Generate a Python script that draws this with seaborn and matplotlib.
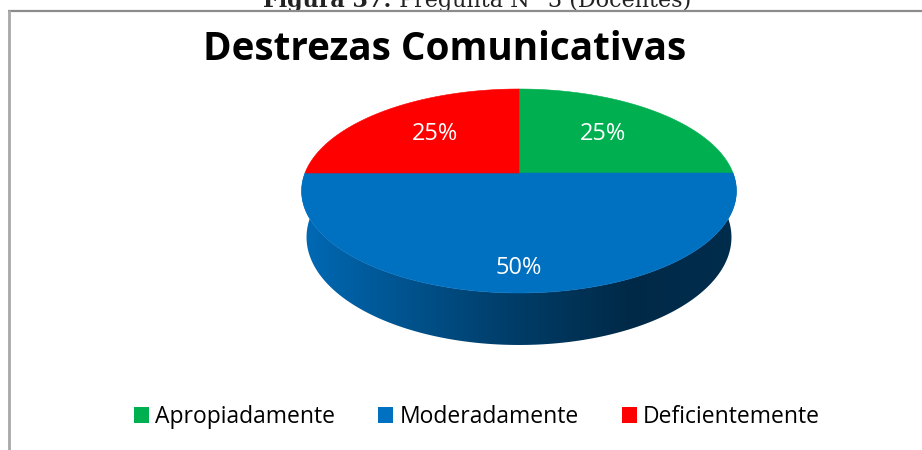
import numpy as np
import matplotlib
matplotlib.use("Agg")
import matplotlib.pyplot as plt
from matplotlib.patches import Polygon, Rectangle
from matplotlib.colors import to_rgb
import seaborn as sns

# ---- data ----
title = "Destrezas Comunicativas"
caption_bold = "Figura 37:"
caption_rest = " Pregunta N° 3 (Docentes)"
categories = ["Apropiadamente", "Moderadamente", "Deficientemente"]
values = [25, 50, 25]
colors = ["#00B050", "#0070C0", "#FF0000"]

sns.set_theme(style="white")
plt.rcParams["font.family"] = ["Open Sans", "DejaVu Sans"]
plt.rcParams["text.color"] = "black"

W, H = 922, 450
fig = plt.figure(figsize=(W / 100, H / 100), dpi=100)
ax = fig.add_axes([0, 0, 1, 1])
ax.set_xlim(0, W)
ax.set_ylim(H, 0)
ax.axis("off")

# ---- perspective 3-D pie geometry (pixel space) ----
CX, CY = 519, 173
TILT = np.deg2rad(27.5)
DIST = 5.026
FOCAL = 1075.6
THICK = 0.246


def project(u, v, z):
    s, c = np.sin(TILT), np.cos(TILT)
    yc = v * s + z * c
    depth = DIST + v * c - z * s
    return CX + u * FOCAL / depth, CY - yc * FOCAL / depth


palette = sns.color_palette(colors)
frac = np.array(values, dtype=float) / np.sum(values)
edges = np.concatenate([[0], np.cumsum(frac)]) * 2 * np.pi  # clockwise from 12 o'clock

x_left, _ = project(-1, 0, 0)
x_right, _ = project(1, 0, 0)

# side wall (front half only is visible), shaded left-to-right
shade_t = [0.0, 0.12, 0.45, 0.75, 1.0]
shade_f = [0.95, 0.84, 0.57, 0.37, 0.40]
for (a, b), col in zip(zip(edges[:-1], edges[1:]), palette):
    lo, hi = max(a, np.pi / 2), min(b, 3 * np.pi / 2)
    if hi <= lo:
        continue
    th = np.linspace(lo, hi, 300)
    tx, ty = project(np.sin(th), np.cos(th), 0)
    bx, by = project(np.sin(th), np.cos(th), -THICK)
    pts = np.column_stack([np.concatenate([tx, bx[::-1]]),
                           np.concatenate([ty, by[::-1]])])
    wall = Polygon(pts, closed=True, facecolor="none", edgecolor="none")
    ax.add_patch(wall)
    t = np.linspace(0, 1, 600)
    f = np.interp(t, shade_t, shade_f)
    rgb = np.array(to_rgb(col))
    img = np.clip(rgb[None, :] * f[:, None], 0, 1)[None, :, :].repeat(2, axis=0)
    im = ax.imshow(img, extent=(x_left - 5, x_right + 5, by.max() + 5, ty.min() - 5),
                   aspect="auto", interpolation="bilinear", zorder=1)
    im.set_clip_path(wall)

# top faces
for (a, b), col in zip(zip(edges[:-1], edges[1:]), palette):
    th = np.linspace(a, b, 300)
    px, py = project(np.sin(th), np.cos(th), 0)
    cx0, cy0 = project(0, 0, 0)
    pts = np.column_stack([np.concatenate([[cx0], px]), np.concatenate([[cy0], py])])
    ax.add_patch(Polygon(pts, closed=True, facecolor=col, edgecolor=col,
                         linewidth=0.4, zorder=2))

# value labels
label_r = [0.6, 0.82, 0.6]
for (a, b), val, r in zip(zip(edges[:-1], edges[1:]), values, label_r):
    m = (a + b) / 2
    lx, ly = project(r * np.sin(m), r * np.cos(m), 0)
    ax.text(lx, ly, f"{val}%", color="white", fontsize=17,
            ha="center", va="center", zorder=3)

ax.set_xlim(0, W)
ax.set_ylim(H, 0)

# title
ax.text(445, 50, title, fontsize=27.8, fontweight="bold", color="black",
        ha="center", va="center", zorder=3)

# legend
handles = [Rectangle((0, 0), 1, 1, facecolor=c, edgecolor="none") for c in palette]
leg = fig.legend(handles, categories, loc="center", bbox_to_anchor=(477 / W, 1 - 417 / H),
                 ncol=3, frameon=False, fontsize=16.5, handlelength=0.655,
                 handleheight=0.655, handletextpad=0.26, columnspacing=1.88,
                 borderaxespad=0, borderpad=0)
for txt in leg.get_texts():
    txt.set_color("black")

# frame lines
ax.plot([8, W], [10.5, 10.5], color="#8c8c8c", lw=1.6, solid_capstyle="butt", zorder=4)
ax.plot([9, 9], [10, H], color="#a8a8a8", lw=2.0, solid_capstyle="butt", zorder=4)

# caption above the frame (partly outside the canvas)
fig.canvas.draw()
renderer = fig.canvas.get_renderer()
cap1 = ax.text(263, 7, caption_bold, fontsize=16, fontweight="bold",
               family=["DejaVu Serif"], ha="left", va="baseline", color="#222222")
bb = cap1.get_window_extent(renderer=renderer)
x_end = ax.transData.inverted().transform((bb.x1, bb.y0))[0]
ax.text(x_end, 7, caption_rest, fontsize=16, family=["DejaVu Serif"],
        ha="left", va="baseline", color="#222222")

fig.savefig("out.png", dpi=100)
